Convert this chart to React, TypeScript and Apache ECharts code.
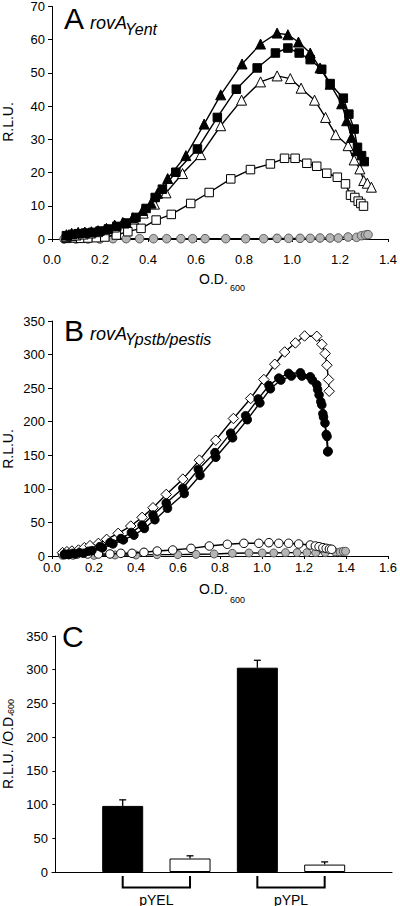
import React, { useEffect, useRef } from 'react';
import * as echarts from 'echarts';

const FONT = '"Liberation Sans", Arial, Helvetica, sans-serif';

// ---------- Panel A: rovA Yent (O.D.600 vs R.L.U.) ----------
const aTicksX = ['0.0', '0.2', '0.4', '0.6', '0.8', '1.0', '1.2', '1.4'];
const aTicksY = ['0', '10', '20', '30', '40', '50', '60', '70'];

const aBlackTriangles: number[][] = [
  [0.06, 1.3], [0.082, 1.7], [0.109, 2.0], [0.137, 2.1], [0.164, 2.2], [0.192, 2.5], [0.227, 3.2],
  [0.261, 4.2], [0.295, 5.0], [0.337, 6.4], [0.378, 8.6], [0.413, 10.8], [0.44, 13.8], [0.482, 18.2],
  [0.558, 25.1], [0.634, 34.6], [0.703, 43.4], [0.792, 52.7], [0.869, 58.7], [0.938, 62.0], [0.983, 61.5],
  [1.027, 59.3], [1.076, 56.0], [1.117, 51.5], [1.159, 46.6], [1.207, 40.7], [1.228, 35.6], [1.248, 30.6],
  [1.269, 26.6],
];
const aBlackSquares: number[][] = [
  [0.06, 1.0], [0.085, 1.4], [0.11, 1.6], [0.14, 1.8], [0.17, 2.0], [0.2, 2.4], [0.235, 3.0], [0.27, 3.8],
  [0.31, 4.8], [0.35, 6.5], [0.392, 9.2], [0.43, 12.5], [0.46, 15.0], [0.516, 20.1], [0.606, 27.1],
  [0.689, 36.6], [0.768, 45.1], [0.855, 51.5], [0.931, 56.0], [0.983, 57.5], [1.03, 56.0], [1.076, 54.0],
  [1.124, 51.1], [1.159, 46.8], [1.214, 42.4], [1.237, 37.6], [1.259, 33.1], [1.273, 27.6], [1.29, 25.1],
  [1.301, 23.3],
];
const aOpenTriangles: number[][] = [
  [0.06, 0.8], [0.08, 1.0], [0.1, 1.2], [0.13, 1.5], [0.16, 1.8], [0.19, 2.2], [0.22, 2.8], [0.26, 3.6],
  [0.3, 4.8], [0.34, 6.0], [0.38, 7.8], [0.427, 10.5], [0.475, 13.9], [0.544, 19.7], [0.62, 25.4],
  [0.703, 34.1], [0.79, 41.8], [0.869, 47.3], [0.938, 49.1], [0.993, 48.3], [1.038, 45.4], [1.094, 41.8],
  [1.14, 36.6], [1.182, 31.4], [1.234, 28.1], [1.259, 23.8], [1.283, 21.1], [1.299, 17.6], [1.314, 16.8],
  [1.331, 15.6],
];
const aOpenSquares: number[][] = [
  [0.06, 0.2], [0.09, 0.3], [0.12, 0.2], [0.15, 0.3], [0.185, 0.4], [0.22, 0.6], [0.268, 1.2], [0.316, 2.2],
  [0.371, 3.2], [0.434, 5.7], [0.497, 7.4], [0.578, 10.7], [0.655, 14.0], [0.745, 18.1], [0.827, 20.9],
  [0.91, 22.6], [0.969, 24.3], [1.013, 24.3], [1.062, 22.8], [1.103, 21.9], [1.145, 19.8], [1.189, 18.6],
  [1.223, 16.6], [1.244, 13.2], [1.262, 12.5], [1.276, 11.4], [1.287, 10.7], [1.298, 9.9],
];
const aGreyCircles: number[][] = [
  [0.05, 0], [0.1, 0], [0.15, 0], [0.2, 0], [0.254, 0.1], [0.309, 0.1], [0.365, 0.1], [0.423, 0.1],
  [0.478, 0.1], [0.537, 0.1], [0.586, 0.1], [0.638, 0.1], [0.724, 0.1], [0.807, 0.1], [0.882, 0.1],
  [0.938, 0.2], [0.986, 0.2], [1.034, 0.2], [1.076, 0.2], [1.117, 0.3], [1.159, 0.3], [1.193, 0.3],
  [1.234, 0.6], [1.269, 0.5], [1.29, 1.0], [1.306, 1.2], [1.317, 1.3],
];

// ---------- Panel B: rovA Ypstb/pestis ----------
const bTicksX = ['0.0', '0.2', '0.4', '0.6', '0.8', '1.0', '1.2', '1.4', '1.6'];
const bTicksY = ['0', '50', '100', '150', '200', '250', '300', '350'];

const bOpenDiamonds: number[][] = [
  [0.05, 5], [0.071, 6.4], [0.095, 7.4], [0.126, 8.9], [0.154, 12.4], [0.181, 15.4], [0.221, 18.8],
  [0.26, 24.8], [0.315, 33.7], [0.375, 44.6], [0.429, 57.5], [0.481, 71.9], [0.544, 91.7], [0.623, 114.5],
  [0.702, 142.8], [0.78, 172.5], [0.864, 204.8], [0.946, 234.6], [1.009, 262.8], [1.061, 285.6],
  [1.108, 303.9], [1.159, 317.3], [1.203, 327.7], [1.261, 327.2], [1.285, 315.3], [1.301, 301.5],
  [1.309, 284.1], [1.317, 262.8], [1.32, 245.4],
];
const bBlackUpper: number[][] = [
  [0.06, 3], [0.08, 3], [0.1, 4], [0.13, 5], [0.173, 7], [0.228, 14], [0.276, 20], [0.328, 26], [0.378, 35],
  [0.429, 46], [0.481, 61], [0.544, 79], [0.623, 101], [0.697, 129], [0.776, 154], [0.851, 183], [0.922, 209],
  [0.982, 234], [1.033, 254], [1.08, 265], [1.127, 272], [1.183, 273], [1.23, 267], [1.261, 255],
  [1.272, 240], [1.285, 225], [1.293, 207], [1.306, 181], [1.313, 155],
];
const bBlackLower: number[][] = [
  [0.06, 2], [0.08, 2], [0.11, 3], [0.15, 4], [0.19, 8], [0.24, 12], [0.29, 18], [0.34, 24], [0.39, 31],
  [0.44, 41], [0.49, 54], [0.55, 71], [0.63, 93], [0.705, 120], [0.78, 147], [0.86, 176], [0.93, 203],
  [0.99, 228], [1.04, 249], [1.09, 262], [1.14, 268], [1.19, 268], [1.24, 262], [1.265, 248], [1.28, 230],
  [1.29, 212], [1.3, 198], [1.31, 178], [1.315, 156],
];
const bOpenCircles: number[][] = [
  [0.05, 3], [0.08, 3], [0.12, 3], [0.17, 3], [0.221, 3], [0.276, 3], [0.328, 4], [0.381, 4], [0.438, 5.5],
  [0.501, 7.4], [0.575, 8.9], [0.662, 11.4], [0.749, 14.9], [0.835, 17.4], [0.914, 18.9], [0.985, 18.9],
  [1.033, 19.8], [1.08, 18.9], [1.127, 18.9], [1.175, 17.9], [1.23, 16.4], [1.254, 14.9], [1.272, 13.9],
  [1.29, 12.4], [1.306, 11.4], [1.321, 10.4], [1.332, 10],
];
const bGreyCircles: number[][] = [
  [0.05, 1], [0.1, 1], [0.2, 1], [0.3, 1.5], [0.4, 1.5], [0.5, 2], [0.599, 2], [0.686, 2.5], [0.772, 3],
  [0.859, 4], [0.938, 4.5], [1.001, 4.5], [1.056, 4.5], [1.112, 5], [1.167, 5], [1.214, 5], [1.256, 5],
  [1.301, 5], [1.348, 6], [1.372, 6], [1.387, 7], [1.398, 7],
];

// ---------- Panel C: R.L.U./O.D.600 bars ----------
const cTicksY = ['0', '50', '100', '150', '200', '250', '300', '350'];
const cGroups = ['pYEL', 'pYPL'];
const cBlackValues = [98, 303];
const cBlackErrTop = [107, 314];
const cWhiteValues = [20, 11];
const cWhiteErrTop = [24, 15];

function lineSeries(
  name: string, data: number[][], axis: number, symbol: string, size: number,
  fill: string, border: string, z: number,
) {
  return {
    type: 'line', name, data, xAxisIndex: axis, yAxisIndex: axis,
    symbol, symbolSize: size, showSymbol: true, showAllSymbol: true,
    lineStyle: { color: '#000', width: 1.4 },
    itemStyle: { color: fill, borderColor: border, borderWidth: 1 },
    z, silent: true, emphasis: { disabled: true },
  };
}

function valueAxisX(gridIndex: number, max: number, ticks: string[], margin: number) {
  return {
    type: 'value', gridIndex, min: 0, max, interval: 0.2,
    axisLine: { show: true, lineStyle: { color: '#000', width: 1 } },
    axisTick: { show: true, length: 3, lineStyle: { color: '#000' } },
    splitLine: { show: false },
    axisLabel: {
      margin, color: '#000', fontSize: 13, fontFamily: FONT,
      formatter: (v: number) => ticks[Math.round(v / 0.2)] ?? '',
    },
  };
}

function valueAxisY(gridIndex: number, max: number, interval: number, ticks: string[], margin: number) {
  return {
    type: 'value', gridIndex, min: 0, max, interval,
    axisLine: { show: true, lineStyle: { color: '#000', width: 1 } },
    axisTick: { show: true, length: 4, lineStyle: { color: '#000' } },
    splitLine: { show: false },
    axisLabel: {
      margin, color: '#000', fontSize: 13, fontFamily: FONT,
      formatter: (v: number) => ticks[Math.round(v / interval)] ?? '',
    },
  };
}

function txt(text: string, x: number, y: number, size: number, opts: any = {}) {
  return {
    type: 'text', x, y, rotation: opts.rotation ?? 0, silent: true,
    style: {
      text, fill: '#000',
      font: `${opts.italic ? 'italic ' : ''}${size}px ${FONT}`,
      align: opts.align ?? 'left', verticalAlign: 'middle',
    },
  };
}

export default function App() {
  const ref = useRef<HTMLDivElement>(null);

  useEffect(() => {
    if (!ref.current) return;
    const chart = echarts.init(ref.current, undefined, { renderer: 'svg' });

    const blackData = cBlackValues.map((v, i) => [1 + 2 * i, v]);
    const whiteData = cWhiteValues.map((v, i) => [2 + 2 * i, v]);
    const errData = [
      ...cBlackValues.map((v, i) => [1 + 2 * i, v, cBlackErrTop[i]]),
      ...cWhiteValues.map((v, i) => [2 + 2 * i, v, cWhiteErrTop[i]]),
    ];
    const bracketData = cGroups.map((_, i) => [1 + 2 * i, 2 + 2 * i]);

    const option: any = {
      animation: false,
      grid: [
        { left: 52, top: 5, width: 338, height: 234 },
        { left: 52, top: 321, width: 338, height: 235 },
        { left: 52, top: 636, width: 340, height: 236 },
      ],
      xAxis: [
        valueAxisX(0, 1.4, aTicksX, 14),
        valueAxisX(1, 1.6, bTicksX, 5),
        {
          type: 'value', gridIndex: 2, min: -0.05, max: 5,
          axisLine: { show: true, lineStyle: { color: '#000', width: 1 } },
          axisTick: { show: false }, axisLabel: { show: false }, splitLine: { show: false },
        },
      ],
      yAxis: [
        valueAxisY(0, 70, 10, aTicksY, 7),
        valueAxisY(1, 350, 50, bTicksY, 7),
        {
          ...valueAxisY(2, 350, 50, cTicksY, 4),
          axisTick: { show: true, length: 3, lineStyle: { color: '#000' } },
        },
      ],
      series: [
        lineSeries('A grey', aGreyCircles, 0, 'circle', 8.5, '#b5b5b5', '#555', 2),
        lineSeries('A open squares', aOpenSquares, 0, 'rect', 8.5, '#fff', '#000', 3),
        lineSeries('A open triangles', aOpenTriangles, 0, 'triangle', 10, '#fff', '#000', 4),
        lineSeries('A black squares', aBlackSquares, 0, 'rect', 8.5, '#000', '#000', 5),
        lineSeries('A black triangles', aBlackTriangles, 0, 'triangle', 10, '#000', '#000', 6),

        lineSeries('B grey', bGreyCircles, 1, 'circle', 8, '#b5b5b5', '#555', 2),
        lineSeries('B open circles', bOpenCircles, 1, 'circle', 8.5, '#fff', '#000', 3),
        lineSeries('B open diamonds', bOpenDiamonds, 1, 'diamond', 10.5, '#fff', '#000', 4),
        lineSeries('B black lower', bBlackLower, 1, 'circle', 8.5, '#000', '#000', 5),
        lineSeries('B black upper', bBlackUpper, 1, 'circle', 8.5, '#000', '#000', 6),

        {
          type: 'bar', name: 'C black', data: blackData, xAxisIndex: 2, yAxisIndex: 2,
          barWidth: 41, barGap: '-100%', silent: true,
          itemStyle: { color: '#000', borderColor: '#000', borderWidth: 1 },
        },
        {
          type: 'bar', name: 'C white', data: whiteData, xAxisIndex: 2, yAxisIndex: 2,
          barWidth: 41, barGap: '-100%', silent: true,
          itemStyle: { color: '#fff', borderColor: '#000', borderWidth: 1 },
        },
        {
          type: 'custom', name: 'C error', data: errData, xAxisIndex: 2, yAxisIndex: 2,
          silent: true, z: 5,
          renderItem: (_p: any, api: any) => {
            const x = api.value(0);
            const a = api.coord([x, api.value(1)]);
            const b = api.coord([x, api.value(2)]);
            return {
              type: 'group',
              children: [
                { type: 'line', shape: { x1: a[0], y1: a[1], x2: b[0], y2: b[1] }, style: { stroke: '#000', lineWidth: 1.3 } },
                { type: 'line', shape: { x1: b[0] - 3.5, y1: b[1], x2: b[0] + 3.5, y2: b[1] }, style: { stroke: '#000', lineWidth: 1.3 } },
              ],
            };
          },
        },
        {
          type: 'custom', name: 'C brackets', data: bracketData, xAxisIndex: 2, yAxisIndex: 2,
          silent: true, clip: false, z: 5,
          renderItem: (p: any, api: any) => {
            const a = api.coord([api.value(0), 0]);
            const b = api.coord([api.value(1), 0]);
            const y0 = a[1] + 4;
            const y1 = a[1] + 15.5;
            return {
              type: 'group',
              children: [
                {
                  type: 'polyline',
                  shape: { points: [[a[0], y0], [a[0], y1], [b[0], y1], [b[0], y0]] },
                  style: { stroke: '#000', lineWidth: 2, fill: 'none' },
                },
                {
                  type: 'text', x: (a[0] + b[0]) / 2, y: a[1] + 27.5,
                  style: { text: cGroups[p.dataIndex], fill: '#000', font: `14px ${FONT}`, align: 'center', verticalAlign: 'middle' },
                },
              ],
            };
          },
        },
      ],
      graphic: [
        txt('A', 64, 18, 30),
        txt('rovA', 90, 23, 18, { italic: true }),
        txt('Yent', 125, 29, 16, { italic: true }),
        txt('R.L.U.', 7.5, 122, 14, { rotation: Math.PI / 2, align: 'center' }),
        txt('O.D.', 199, 279, 14),
        txt('600', 230, 287.5, 9),

        txt('B', 64, 330, 30),
        txt('rovA', 90, 333.5, 18, { italic: true }),
        txt('Ypstb/pestis', 125, 339, 16, { italic: true }),
        txt('R.L.U.', 7.5, 449, 14, { rotation: Math.PI / 2, align: 'center' }),
        txt('O.D.', 199, 589, 14),
        txt('600', 230, 600, 9),

        txt('C', 62, 636, 30),
        txt('R.L.U. /O.D.', 7.5, 751, 14, { rotation: Math.PI / 2, align: 'center' }),
        txt('600', 10.5, 706.5, 9, { rotation: Math.PI / 2, align: 'center' }),
      ],
    };

    chart.setOption(option);
    return () => chart.dispose();
  }, []);

  return (
    <div
      ref={ref}
      style={{ position: 'fixed', left: 0, top: 0, width: 400, height: 906, background: '#fff' }}
    />
  );
}
